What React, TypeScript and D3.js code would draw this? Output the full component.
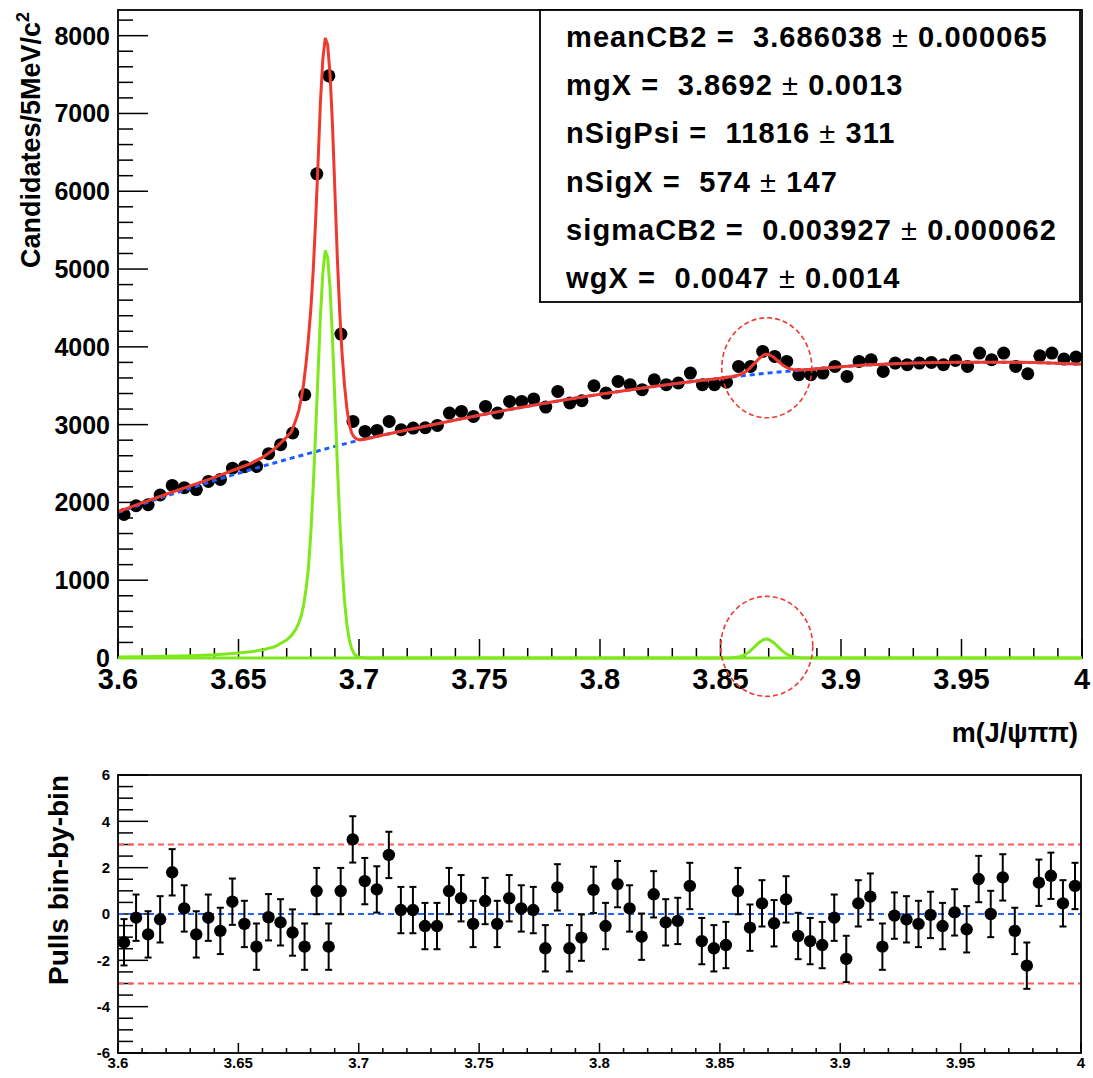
import React from 'react';
import * as d3 from 'd3';

// ---------- data ----------
const binLow = 3.6;
const binWidth = 0.005;
const counts = [
  1845, 1957, 1970, 2095, 2219, 2190, 2165, 2270, 2295, 2440,
  2460, 2463, 2626, 2742, 2892, 3384, 6224, 7484, 4164, 3041,
  2913, 2926, 3041, 2934, 2956, 2960, 2990, 3149, 3170, 3106,
  3234, 3149, 3298, 3298, 3330, 3226, 3427, 3278, 3307, 3500,
  3406, 3555, 3513, 3449, 3577, 3513, 3535, 3663, 3513, 3513,
  3545, 3748, 3748, 3941, 3877, 3812, 3641, 3641, 3663, 3748,
  3620, 3812, 3834, 3684, 3791, 3770, 3791, 3800, 3770, 3825,
  3748, 3920, 3834, 3920, 3748, 3654, 3885, 3920, 3843, 3869,
];
const pulls = [
  -1.22, -0.16, -0.88, -0.23, 1.8, 0.24, -0.88, -0.16, -0.73, 0.53,
  -0.43, -1.41, -0.14, -0.36, -0.8, -1.41, 0.99, -1.41, 0.99, 3.22,
  1.42, 1.06, 2.55, 0.17, 0.17, -0.52, -0.52, 0.99, 0.68, -0.43,
  0.56, -0.43, 0.68, 0.24, 0.17, -1.48, 1.15, -1.48, -1.02, 1.04,
  -0.52, 1.29, 0.24, -0.98, 0.85, -0.36, -0.3, 1.21, -1.17, -1.48,
  -1.34, 0.99, -0.59, 0.46, -0.4, 0.63, -0.95, -1.17, -1.34, -0.16,
  -1.94, 0.46, 0.75, -1.41, -0.07, -0.23, -0.43, -0.04, -0.52, 0.07,
  -0.66, 1.51, 0.0, 1.58, -0.73, -2.23, 1.35, 1.65, 0.46, 1.21,
];
const pullError = 1;

// background (blue dashed), sampled every 10 MeV from 3.60 to 4.00
const bkgX = [
  3.60, 3.61, 3.62, 3.63, 3.64, 3.65, 3.66, 3.67, 3.68, 3.69,
  3.70, 3.71, 3.72, 3.73, 3.74, 3.75, 3.76, 3.77, 3.78, 3.79,
  3.80, 3.81, 3.82, 3.83, 3.84, 3.85, 3.86, 3.87, 3.88, 3.89,
  3.90, 3.91, 3.92, 3.93, 3.94, 3.95, 3.96, 3.97, 3.98, 3.99, 4.00,
];
const bkgY = [
  1872, 1979, 2083, 2183, 2281, 2375, 2465, 2552, 2637, 2720,
  2800, 2866, 2931, 2996, 3060, 3121, 3180, 3236, 3290, 3341,
  3390, 3436, 3480, 3521, 3560, 3597, 3632, 3664, 3692, 3718,
  3745, 3765, 3780, 3792, 3798, 3802, 3803, 3802, 3798, 3788, 3775,
];

// signal components (green)
const sigX = [
  3.600, 3.610, 3.620, 3.630, 3.640, 3.645, 3.650, 3.655, 3.660, 3.665,
  3.670, 3.672, 3.674, 3.675, 3.676, 3.677, 3.678, 3.679, 3.680, 3.681,
  3.682, 3.683, 3.684, 3.685, 3.686, 3.687, 3.688, 3.689, 3.690, 3.691,
  3.692, 3.693, 3.694, 3.695, 3.696, 3.697, 3.698, 3.699, 3.700, 3.702,
  3.705, 3.850, 3.855, 3.858, 3.860, 3.862, 3.864, 3.866, 3.868, 3.869,
  3.870, 3.872, 3.874, 3.876, 3.878, 3.880, 3.883, 3.888, 4.000,
];
const sigY = [
  12, 16, 22, 30, 42, 52, 64, 80, 105, 145,
  230, 290, 380, 450, 540, 680, 880, 1150, 1600, 2200,
  2900, 3650, 4400, 4950, 5240, 5150, 4750, 4100, 3300, 2500,
  1780, 1180, 730, 420, 230, 115, 55, 25, 10, 2,
  0, 0, 3, 16, 39, 81, 139, 199, 239, 244,
  239, 199, 139, 81, 39, 16, 3, 0, 0,
];

// total fit (red)
const fitX = [
  3.600, 3.610, 3.620, 3.630, 3.640, 3.650, 3.655, 3.660, 3.665, 3.670,
  3.672, 3.674, 3.675, 3.676, 3.677, 3.678, 3.679, 3.680, 3.681, 3.682,
  3.683, 3.684, 3.685, 3.686, 3.687, 3.688, 3.689, 3.690, 3.691, 3.692,
  3.693, 3.694, 3.695, 3.696, 3.697, 3.698, 3.699, 3.700, 3.702, 3.705,
  3.710, 3.720, 3.730, 3.740, 3.750, 3.760, 3.770, 3.780, 3.790, 3.800,
  3.810, 3.820, 3.830, 3.840, 3.850, 3.855, 3.858, 3.860, 3.862, 3.864,
  3.866, 3.868, 3.869, 3.870, 3.872, 3.874, 3.876, 3.878, 3.880, 3.883,
  3.888, 3.890, 3.900, 3.910, 3.920, 3.930, 3.940, 3.950, 3.960, 3.970,
  3.980, 3.990, 4.000,
];
const fitY = [
  1880, 1995, 2105, 2213, 2323, 2439, 2500, 2578, 2690, 2840,
  2910, 3080, 3180, 3330, 3520, 3780, 4100, 4480, 4980, 5620,
  6360, 7150, 7700, 7970, 7880, 7500, 6850, 6000, 5150, 4450,
  3900, 3500, 3200, 3000, 2890, 2840, 2815, 2805, 2810, 2830,
  2866, 2931, 2996, 3060, 3121, 3180, 3236, 3290, 3341, 3390,
  3436, 3480, 3521, 3560, 3597, 3618, 3641, 3671, 3720, 3784,
  3850, 3897, 3905, 3903, 3869, 3814, 3762, 3725, 3708, 3703,
  3713, 3719, 3745, 3765, 3780, 3792, 3798, 3802, 3803, 3802,
  3798, 3788, 3775,
];

const xTickValues = [3.6, 3.65, 3.7, 3.75, 3.8, 3.85, 3.9, 3.95, 4.0];
const xTickLabels = ['3.6', '3.65', '3.7', '3.75', '3.8', '3.85', '3.9', '3.95', '4'];
const yTopTickValues = [0, 1000, 2000, 3000, 4000, 5000, 6000, 7000, 8000];
const yTopTickLabels = ['0', '1000', '2000', '3000', '4000', '5000', '6000', '7000', '8000'];
const yBotTickValues = [-6, -4, -2, 0, 2, 4, 6];
const yBotTickLabels = ['-6', '-4', '-2', '0', '2', '4', '6'];

const statNames = ['meanCB2', 'mgX', 'nSigPsi', 'nSigX', 'sigmaCB2', 'wgX'];
const statValues = ['3.686038', '3.8692', '11816', '574', '0.003927', '0.0047'];
const statErrors = ['0.000065', '0.0013', '311', '147', '0.000062', '0.0014'];

const xMarkMass = 3.8692;

// ---------- drawing ----------
const FONT = "'Liberation Sans', Arial, Helvetica, sans-serif";
const RED = '#ee3a2e';
const GREEN = '#7ee81c';
const BLUE = '#1f5cff';

export default function App() {
  const W = 1093, H = 1078;
  const xT = d3.scaleLinear().domain([3.6, 4.0]).range([118, 1082]);
  const yT = d3.scaleLinear().domain([0, 8330]).range([658, 10]);
  const xB = d3.scaleLinear().domain([3.6, 4.0]).range([118, 1081]);
  const yB = d3.scaleLinear().domain([-6, 6]).range([1053, 775]);

  const zip = (xs: number[], ys: number[]) => xs.map((x, i) => [x, ys[i]] as [number, number]);
  const lineT = d3.line<[number, number]>().x(d => xT(d[0])).y(d => yT(d[1]));

  const bins = counts.map((c, i) => ({
    x: binLow + (i + 0.5) * binWidth,
    lo: binLow + i * binWidth,
    hi: binLow + (i + 1) * binWidth,
    y: c,
    e: Math.sqrt(c),
    p: pulls[i],
  }));

  const xMinor = d3.range(0, 41).map(i => 3.6 + i * 0.01);
  const yTopMinor = d3.range(0, 42).map(i => i * 200);
  const yBotMinor = d3.range(0, 25).map(i => -6 + i * 0.5);

  const bold = { fontFamily: FONT, fontWeight: 700 as const };

  return (
    <svg width={W} height={H} style={{ position: 'absolute', left: 0, top: 0, background: '#fff' }}>
      <rect x={0} y={0} width={W} height={H} fill="#fff" />

      {/* ===== upper panel ===== */}
      {yTopMinor.map(v => (
        <line key={'ytm' + v} x1={xT(3.6)} x2={xT(3.6) + (v % 1000 === 0 ? 30 : 15)} y1={yT(v)} y2={yT(v)} stroke="#000" strokeWidth={1.5} />
      ))}
      {yTopTickValues.map((v, i) => (
        <text key={'ytl' + v} x={110} y={yT(v)} dy="0.36em" textAnchor="end" fontSize={25} {...bold}>{yTopTickLabels[i]}</text>
      ))}
      {xMinor.map((v, i) => (
        <line key={'xtm' + i} x1={xT(v)} x2={xT(v)} y1={yT(0)} y2={yT(0) - (i % 5 === 0 ? 19 : 10)} stroke="#000" strokeWidth={1.5} />
      ))}
      {xTickValues.map((v, i) => (
        <text key={'xtl' + i} x={xT(v)} y={689} textAnchor="middle" fontSize={29} {...bold}>{xTickLabels[i]}</text>
      ))}

      {/* data */}
      <g>
        {bins.map((b, i) => (
          <g key={'d' + i}>
            <line x1={xT(b.lo)} x2={xT(b.hi)} y1={yT(b.y)} y2={yT(b.y)} stroke="#000" strokeWidth={2} />
            <line x1={xT(b.x)} x2={xT(b.x)} y1={yT(b.y - b.e)} y2={yT(b.y + b.e)} stroke="#000" strokeWidth={2} />
            <circle cx={xT(b.x)} cy={yT(b.y)} r={6.5} fill="#000" />
          </g>
        ))}
      </g>

      {/* curves */}
      <path d={lineT(zip(bkgX, bkgY)) || ''} fill="none" stroke={BLUE} strokeWidth={3} strokeDasharray="5 4" />
      <path d={lineT(zip(sigX, sigY)) || ''} fill="none" stroke={GREEN} strokeWidth={3} />
      <path d={lineT(zip(fitX, fitY)) || ''} fill="none" stroke={RED} strokeWidth={3} />

      {/* frame */}
      <rect x={xT(3.6)} y={yT(8330)} width={xT(4.0) - xT(3.6)} height={yT(0) - yT(8330)} fill="none" stroke="#000" strokeWidth={1.8} />
      <line x1={xT(3.6)} x2={xT(4.0)} y1={yT(0)} y2={yT(0)} stroke={GREEN} strokeWidth={3} />

      {/* annotation circles */}
      <ellipse cx={xT(xMarkMass)} cy={yT(3731)} rx={45} ry={50} fill="none" stroke="#f03a30" strokeWidth={1.6} strokeDasharray="5 3" />
      <ellipse cx={xT(xMarkMass)} cy={yT(150)} rx={46} ry={50} fill="none" stroke="#f03a30" strokeWidth={1.6} strokeDasharray="5 3" />

      {/* stats box */}
      <rect x={540} y={10} width={540} height={292} fill="#fff" stroke="#000" strokeWidth={1.8} />
      {statNames.map((n, i) => (
        <text key={'st' + i} x={566} y={47 + i * 48.2} fontSize={29} letterSpacing={1.1} {...bold} style={{ whiteSpace: 'pre' }}>
          {`${n} =  ${statValues[i]} `}
          <tspan fontWeight={400}>±</tspan>
          {` ${statErrors[i]}`}
        </text>
      ))}

      {/* axis titles */}
      <text transform="translate(40,12) rotate(-90)" textAnchor="end" fontSize={27} {...bold}>
        Candidates/5MeV/c<tspan fontSize={18} dy={-11}>2</tspan>
      </text>
      <text x={1078} y={742} textAnchor="end" fontSize={27} {...bold}>m(J/ψππ)</text>

      {/* ===== lower panel ===== */}
      {yBotMinor.map((v, i) => (
        <line key={'ybm' + i} x1={xB(3.6)} x2={xB(3.6) + (i % 4 === 0 ? 30 : 15)} y1={yB(v)} y2={yB(v)} stroke="#000" strokeWidth={1.5} />
      ))}
      {yBotTickValues.map((v, i) => (
        <text key={'ybl' + i} x={110} y={yB(v)} dy="0.36em" textAnchor="end" fontSize={15} {...bold}>{yBotTickLabels[i]}</text>
      ))}
      {xMinor.map((v, i) => (
        <line key={'xbm' + i} x1={xB(v)} x2={xB(v)} y1={yB(-6)} y2={yB(-6) - (i % 5 === 0 ? 10 : 5)} stroke="#000" strokeWidth={1.5} />
      ))}
      {xTickValues.map((v, i) => (
        <text key={'xbl' + i} x={xB(v)} y={1068} textAnchor="middle" fontSize={15} {...bold}>{xTickLabels[i]}</text>
      ))}

      {/* reference lines */}
      <line x1={xB(3.6)} x2={xB(4.0)} y1={yB(3)} y2={yB(3)} stroke="#ff5a5a" strokeWidth={2} strokeDasharray="6 4" />
      <line x1={xB(3.6)} x2={xB(4.0)} y1={yB(-3)} y2={yB(-3)} stroke="#ff5a5a" strokeWidth={2} strokeDasharray="6 4" />
      <line x1={xB(3.6)} x2={xB(4.0)} y1={yB(0)} y2={yB(0)} stroke="#2a62f0" strokeWidth={2} strokeDasharray="6 4" />

      {/* pulls */}
      {bins.map((b, i) => (
        <g key={'p' + i}>
          <line x1={xB(b.x)} x2={xB(b.x)} y1={yB(b.p - pullError)} y2={yB(b.p + pullError)} stroke="#000" strokeWidth={2} />
          <line x1={xB(b.x) - 3.5} x2={xB(b.x) + 3.5} y1={yB(b.p + pullError)} y2={yB(b.p + pullError)} stroke="#000" strokeWidth={2} />
          <line x1={xB(b.x) - 3.5} x2={xB(b.x) + 3.5} y1={yB(b.p - pullError)} y2={yB(b.p - pullError)} stroke="#000" strokeWidth={2} />
          <circle cx={xB(b.x)} cy={yB(b.p)} r={6.2} fill="#000" />
        </g>
      ))}

      <rect x={xB(3.6)} y={yB(6)} width={xB(4.0) - xB(3.6)} height={yB(-6) - yB(6)} fill="none" stroke="#000" strokeWidth={1.8} />

      <text transform="translate(68,775) rotate(-90)" textAnchor="end" fontSize={28} {...bold}>Pulls bin-by-bin</text>
    </svg>
  );
}
